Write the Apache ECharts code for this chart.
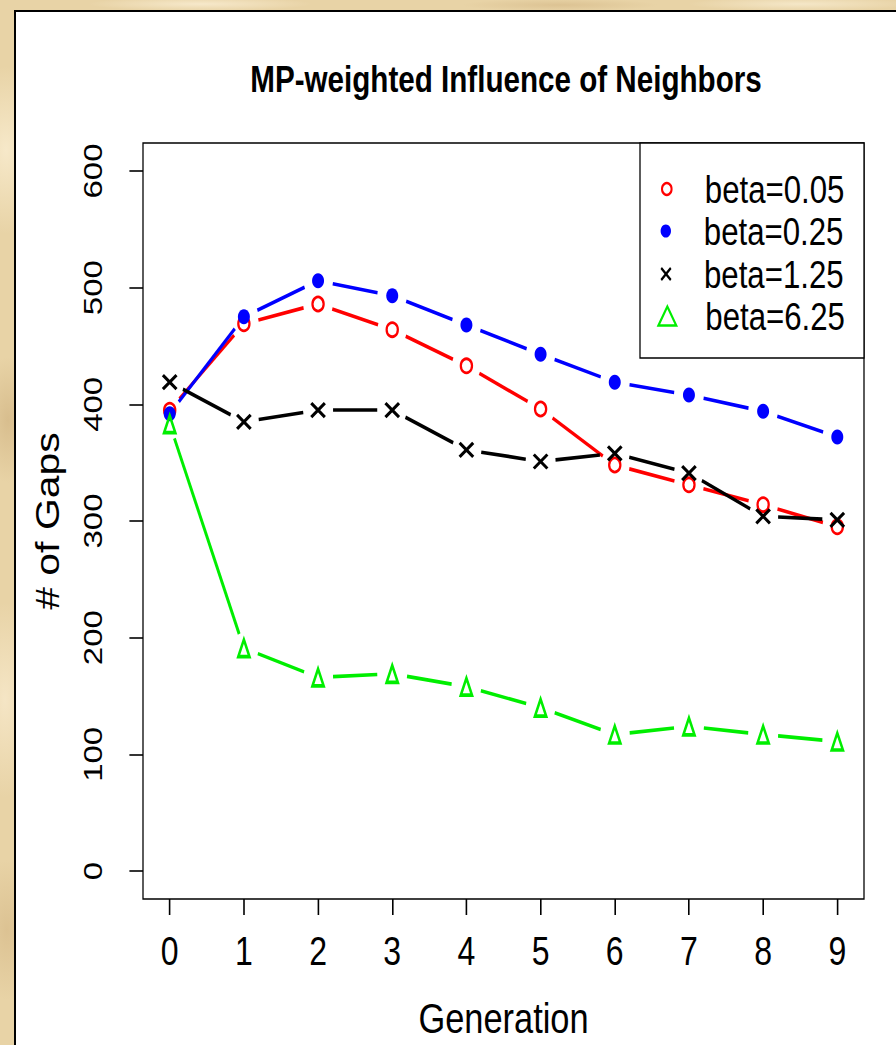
<!DOCTYPE html>
<html>
<head>
<meta charset="utf-8">
<script src="https://cdn.jsdelivr.net/npm/echarts@6/dist/echarts.min.js"></script>
<style>
  html, body { margin: 0; padding: 0; width: 896px; height: 1045px; overflow: hidden; }
  body {
    background-color: #e8d3a6;
    background-image:
      radial-gradient(ellipse 60px 120px at 6px 150px, rgba(250,238,210,0.8), rgba(250,238,210,0) 70%),
      radial-gradient(ellipse 40px 90px at 8px 420px, rgba(205,175,125,0.6), rgba(205,175,125,0) 70%),
      radial-gradient(ellipse 50px 140px at 5px 700px, rgba(248,234,205,0.8), rgba(248,234,205,0) 70%),
      radial-gradient(ellipse 45px 100px at 7px 930px, rgba(210,180,130,0.55), rgba(210,180,130,0) 70%),
      radial-gradient(ellipse 160px 10px at 200px 4px, rgba(250,238,212,0.8), rgba(250,238,212,0) 70%),
      radial-gradient(ellipse 140px 9px at 560px 5px, rgba(208,178,128,0.5), rgba(208,178,128,0) 70%),
      radial-gradient(ellipse 160px 10px at 800px 4px, rgba(248,236,208,0.8), rgba(248,236,208,0) 70%);
  }
  #panel {
    position: absolute; left: 14px; top: 10px; right: 0; bottom: 0;
    background: #ffffff;
    border-left: 2px solid #000; border-top: 2px solid #000;
  }
  /* The chart is laid out wide and squeezed horizontally, giving narrow lettering */
  #chart {
    position: absolute; left: 0; top: 0; width: 1120px; height: 1045px;
    transform: scaleX(0.8); transform-origin: 0 0;
  }
</style>
</head>
<body>
<div id="panel"></div>
<div id="chart"></div>
<script>
// Number of gaps per generation for four values of beta
const generations = [0, 1, 2, 3, 4, 5, 6, 7, 8, 9];
const beta005 = [395, 469, 486, 464, 433, 396, 348, 331, 314, 295];
const beta025 = [392, 475, 506, 493, 468, 443, 419, 408, 394, 372];
const beta125 = [419, 385, 395, 395, 361, 351, 358, 341, 304, 301];
const beta625 = [383, 191, 166, 169, 158, 140, 117, 124, 117, 111];
const seriesNames = ['beta=0.05', 'beta=0.25', 'beta=1.25', 'beta=6.25'];
const xTicks = [0, 1, 2, 3, 4, 5, 6, 7, 8, 9];
const yTicks = [0, 100, 200, 300, 400, 500, 600];

const SX = 0.8;                       // horizontal squeeze applied by CSS
const FONT = "'Liberation Sans', Arial, sans-serif";

// Plot area (screen pixels) and axis ranges
const GRID = { left: 143, top: 143, width: 721, height: 757 };
const X_RANGE = [-0.36, 9.36];
const Y_RANGE = [-24, 624];

const colors = ['#ff0000', '#0000ff', '#000000', '#00ee00'];
const triPath = 'path://M0,18L7,0L14,18Z';
const crossPath = 'path://M0,0L10,10M10,0L0,10';

const symbols = [
  { symbol: 'circle', size: 14, fill: 'rgba(255,255,255,0)', border: 2.8 },
  { symbol: 'circle', size: 15, fill: colors[1], border: 0 },
  { symbol: crossPath, size: [17, 14], fill: 'rgba(255,255,255,0)', border: 3.4 },
  { symbol: triPath, size: [14, 17], fill: 'rgba(255,255,255,0)', border: 3.3 }
];

const allValues = [beta005, beta025, beta125, beta625];

function points(vals) {
  return generations.map((g, i) => [g, vals[i]]);
}

// Segments between consecutive points, trimmed so a gap is left around
// each point (R's type = "b"). The gap is measured in screen pixels.
const GAP = 15;
const pxPerX = GRID.width / (X_RANGE[1] - X_RANGE[0]);
const pxPerY = GRID.height / (Y_RANGE[1] - Y_RANGE[0]);
function segments(vals) {
  const out = [];
  for (let i = 0; i < generations.length - 1; i++) {
    const x0 = generations[i], y0 = vals[i], x1 = generations[i + 1], y1 = vals[i + 1];
    const len = Math.hypot((x1 - x0) * pxPerX, (y1 - y0) * pxPerY);
    if (len <= 2 * GAP) continue;
    const t = GAP / len;
    out.push({
      coords: [
        [x0 + (x1 - x0) * t, y0 + (y1 - y0) * t],
        [x1 - (x1 - x0) * t, y1 - (y1 - y0) * t]
      ]
    });
  }
  return out;
}

const series = [];
allValues.forEach((vals, k) => {
  series.push({
    name: seriesNames[k],
    type: 'scatter',
    data: points(vals),
    symbol: symbols[k].symbol,
    symbolSize: symbols[k].size,
    itemStyle: { color: symbols[k].fill, borderColor: colors[k], borderWidth: symbols[k].border, opacity: 1 },
    emphasis: { disabled: true },
    z: 3
  });
});
allValues.forEach((vals, k) => {
  series.push({
    name: seriesNames[k] + ' segments',
    type: 'lines',
    coordinateSystem: 'cartesian2d',
    data: segments(vals),
    lineStyle: { color: colors[k], width: 3.6, opacity: 1, curveness: 0 },
    emphasis: { disabled: true },
    silent: true,
    z: 2
  });
});

// Legend: one component per row so each icon can have its own size
const rowCenters = [189, 231, 274, 316];
const iconSizes = [[15, 12], [16, 13], [17, 12], [24, 19]];
const legendIcons = ['circle', 'circle', crossPath, 'path://M0,17L10,0L20,17Z'];
const iconCx = 667 / SX, textX = 705 / SX;
const legends = seriesNames.map((name, k) => {
  const w = iconSizes[k][0], h = iconSizes[k][1];
  return {
    data: [{ name: name, icon: legendIcons[k] }],
    left: iconCx - w / 2,
    top: rowCenters[k] - 20,
    padding: 0,
    itemWidth: w,
    itemHeight: h,
    itemGap: 0,
    itemStyle: { borderWidth: k === 1 ? 0 : 2.5 },
    selectedMode: false,
    textStyle: {
      fontFamily: FONT, fontSize: 39, color: '#000',
      padding: [0, 0, 0, textX - (iconCx + w / 2 + 5)], lineHeight: 40
    }
  };
});

const chart = echarts.init(document.getElementById('chart'), null, { renderer: 'svg' });
chart.setOption({
  backgroundColor: 'transparent',
  animation: false,
  title: {
    text: 'MP-weighted Influence of Neighbors',
    left: 502 / SX,
    top: 56,
    textAlign: 'center',
    textStyle: { fontFamily: FONT, fontWeight: 'bold', fontSize: 37, color: '#000' }
  },
  legend: legends,
  grid: {
    left: GRID.left / SX, top: GRID.top, width: GRID.width / SX, height: GRID.height,
    show: true, borderColor: '#000', borderWidth: 1.6, backgroundColor: 'transparent'
  },
  xAxis: {
    type: 'value',
    min: X_RANGE[0], max: X_RANGE[1],
    name: 'Generation',
    nameLocation: 'middle',
    nameGap: 98,
    nameTextStyle: { fontFamily: FONT, fontSize: 43, color: '#000' },
    axisLine: { show: false, onZero: false },
    splitLine: { show: false },
    axisTick: { show: true, length: 16, customValues: xTicks, lineStyle: { color: '#000', width: 2 } },
    axisLabel: { customValues: xTicks, fontFamily: FONT, fontSize: 40, color: '#000', margin: 32 }
  },
  yAxis: {
    type: 'value',
    min: Y_RANGE[0], max: Y_RANGE[1],
    name: '# of Gaps',
    nameLocation: 'middle',
    nameGap: 99,
    nameRotate: 90,
    nameTextStyle: { fontFamily: FONT, fontSize: 41, color: '#000' },
    axisLine: { show: false, onZero: false },
    splitLine: { show: false },
    axisTick: { show: true, length: 17, customValues: yTicks, lineStyle: { color: '#000', width: 1.6 } },
    axisLabel: { customValues: yTicks, rotate: 90, fontFamily: FONT, fontSize: 33, color: '#000', margin: 46 }
  },
  graphic: [{
    type: 'rect',
    shape: { x: 640 / SX, y: 143, width: 224 / SX, height: 215 },
    style: { fill: '#fff', stroke: '#000', lineWidth: 1.6 },
    z: 0, silent: true
  }],
  series: series
});
</script>
</body>
</html>
